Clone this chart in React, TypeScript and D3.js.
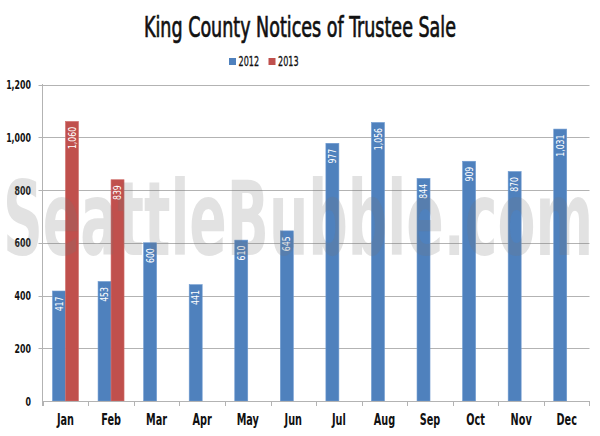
import React from "react";
import * as d3 from "d3";

const months = ["Jan","Feb","Mar","Apr","May","Jun","Jul","Aug","Sep","Oct","Nov","Dec"];
const values2012 = [417,453,600,441,610,645,977,1056,844,909,870,1031];
const values2013: (number | null)[] = [1060,839,null,null,null,null,null,null,null,null,null,null];
const seriesNames = ["2012","2013"];
const seriesColors = ["#4F81BD","#C0504D"];
const yTicks = [0,200,400,600,800,1000,1200];

const W = 600, H = 436;
const FONT = "'Liberation Sans Narrow', 'DejaVu Sans Condensed', 'Liberation Sans', sans-serif";

export default function App() {
  const x = d3.scaleBand<string>().domain(months).range([42.7, 589.5]).paddingInner(0).paddingOuter(0);
  const y = d3.scaleLinear().domain([0, 1200]).range([401, 84.5]);
  const bw = x.bandwidth() * 0.285;
  const fmt = d3.format(",");
  const series = [values2012, values2013];

  return (
    <svg width={W} height={H} style={{ position: "absolute", left: 0, top: 0, background: "#fff" }} fontFamily={FONT}>
      <rect x={0} y={0} width={W} height={H} fill="#fff" />
      <text x={300} y={36.5} textAnchor="middle" fontSize={28} fill="#111" stroke="#111" strokeWidth={0.7} textLength={312} lengthAdjust="spacingAndGlyphs">King County Notices of Trustee Sale</text>
      {/* legend */}
      <rect x={229} y={58} width={7} height={7} fill={seriesColors[0]} />
      <text x={238.5} y={66} fontSize={14} fill="#111" stroke="#111" strokeWidth={0.3} textLength={20.5} lengthAdjust="spacingAndGlyphs">{seriesNames[0]}</text>
      <rect x={268.5} y={58} width={7} height={7} fill={seriesColors[1]} />
      <text x={278} y={66} fontSize={14} fill="#111" stroke="#111" strokeWidth={0.3} textLength={20.5} lengthAdjust="spacingAndGlyphs">{seriesNames[1]}</text>

      {/* grid */}
      {yTicks.filter(t => t > 0).map(t => (
        <line key={t} x1={38.5} x2={589.5} y1={Math.round(y(t)) + 0.5} y2={Math.round(y(t)) + 0.5} stroke="#b3b3b3" strokeWidth={1} />
      ))}
      {yTicks.map(t => (
        <text key={"l" + t} transform={`translate(31,${y(t) + 4.5}) scale(0.7,1)`} textAnchor="end" fontSize={12.5} fontWeight="bold" fill="#111">{fmt(t)}</text>
      ))}

      {/* bars */}
      {months.map((m, i) => {
        const x0 = (x(m) as number) + x.bandwidth() / 2 - bw;
        return series.map((s, si) => {
          const v = s[i];
          if (v == null) return null;
          const bx = x0 + si * bw;
          const by = y(v);
          const cx = bx + bw / 2;
          return (
            <g key={m + si}>
              <rect x={bx} y={by} width={bw} height={y(0) - by} fill={seriesColors[si]} stroke={si === 0 ? "#6e9ad0" : "#d06e6b"} strokeWidth={0.6} />
              <text transform={`translate(${cx + 3.6},${by + 5.5}) rotate(-90) scale(0.82,1)`} textAnchor="end" fontSize={10.5} fill="#fff">{fmt(v)}</text>
            </g>
          );
        });
      })}

      {/* watermark */}
      <text x={3} y={255} fontSize={104} fontWeight="bold" fill="#777" fillOpacity={0.21} textLength={590} lengthAdjust="spacingAndGlyphs">SeattleBubble.com</text>

      {/* axes */}
      <line x1={42.5} x2={42.5} y1={84} y2={406} stroke="#b3b3b3" />
      <line x1={42.5} x2={589.5} y1={401.5} y2={401.5} stroke="#b3b3b3" />
      {months.map((m) => (
        <line key={"t" + m} x1={Math.round(x(m) as number) + 0.5} x2={Math.round(x(m) as number) + 0.5} y1={401} y2={406} stroke="#b3b3b3" />
      ))}
      <line x1={589.5} x2={589.5} y1={401} y2={406} stroke="#b3b3b3" />
      {months.map(m => (
        <text key={"x" + m} transform={`translate(${(x(m) as number) + x.bandwidth() / 2},425) scale(0.72,1)`} textAnchor="middle" fontSize={15} fontWeight="bold" fill="#111">{m}</text>
      ))}
    </svg>
  );
}
